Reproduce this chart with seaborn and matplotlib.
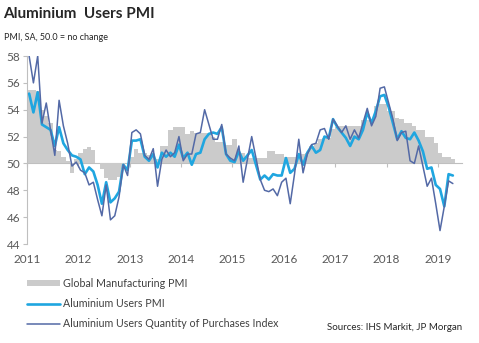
import numpy as np
import pandas as pd
import matplotlib
matplotlib.use("Agg")
import matplotlib.pyplot as plt
import seaborn as sns
from matplotlib.patches import Patch
from matplotlib.lines import Line2D

# ---- data (monthly, Jan 2011 - Apr 2019) ----
years = ["2011", "2012", "2013", "2014", "2015", "2016", "2017", "2018", "2019"]

global_pmi = [
    55.5, 55.5, 55.4, 54.0, 53.5, 53.0, 51.0, 50.9, 50.5, 50.2, 49.3, 50.3,
    50.8, 51.1, 51.2, 51.0, 50.0, 49.6, 48.9, 48.8, 48.8, 49.0, 49.6, 50.0,
    50.5, 51.1, 50.8, 50.8, 50.6, 50.5, 50.3, 51.3, 51.3, 52.5, 52.7, 52.7,
    52.7, 52.2, 52.4, 52.3, 52.3, 52.3, 52.3, 52.0, 51.6, 51.6, 51.4, 51.4,
    51.8, 50.8, 50.8, 50.4, 50.4, 50.4, 50.4, 50.4, 50.9, 50.9, 50.7, 50.7,
    50.5, 50.5, 50.5, 50.6, 50.7, 50.8, 51.3, 51.5, 51.8, 51.9, 51.9, 52.6,
    52.7, 52.8, 52.8, 52.8, 52.8, 52.8, 53.2, 53.2, 53.2, 54.3, 54.4, 54.4,
    53.9, 53.9, 53.4, 53.3, 53.0, 53.0, 52.8, 52.5, 52.5, 52.0, 52.0, 51.5,
    50.8, 50.5, 50.5, 50.3,
]

alu_pmi = [
    55.2, 53.8, 55.3, 52.9, 52.7, 52.5, 51.3, 52.7, 51.5, 51.0, 50.6, 50.5,
    50.3, 49.2, 49.7, 49.4, 48.4, 47.0, 48.6, 47.1, 47.4, 47.9, 49.9, 49.5,
    51.7, 51.7, 51.8, 50.5, 50.2, 50.7, 49.7, 50.8, 50.5, 50.8, 50.5, 51.4,
    50.4, 50.8, 49.9, 50.7, 50.8, 51.8, 52.2, 52.3, 52.2, 52.7, 50.7, 50.2,
    50.1, 50.9, 50.2, 50.6, 51.0, 49.9, 48.8, 49.1, 48.8, 49.2, 49.1, 49.1,
    50.4, 49.3, 49.6, 50.7, 49.9, 50.8, 51.3, 50.8, 51.0, 52.0, 51.9, 53.3,
    52.7, 52.3, 51.9, 51.3, 52.0, 51.8, 52.5, 53.8, 53.0, 53.9, 55.0, 55.1,
    54.2, 53.0, 51.8, 52.4, 51.9, 51.8, 52.3, 51.7, 50.9, 49.6, 49.7, 48.4,
    48.1, 46.8, 49.2, 49.1,
]

alu_purchases = [
    58.0, 56.0, 58.0, 53.0, 54.5, 52.5, 50.6, 54.7, 52.8, 51.5, 49.8, 50.1,
    49.5, 49.3, 48.4, 48.6, 47.3, 46.1, 48.4, 45.8, 46.1, 47.5, 49.9, 49.1,
    52.3, 52.5, 52.2, 50.6, 50.3, 51.1, 48.3, 50.3, 51.0, 50.5, 50.8, 52.0,
    50.2, 50.7, 50.7, 52.2, 52.3, 54.0, 52.9, 51.8, 51.8, 52.9, 50.7, 50.4,
    50.2, 51.3, 48.6, 50.3, 52.0, 50.4, 48.8, 48.0, 47.9, 48.1, 47.6, 48.6,
    48.9, 47.0, 49.2, 51.8, 49.3, 50.7, 51.4, 51.5, 52.5, 52.6, 51.8, 53.3,
    52.8, 52.3, 52.8, 51.8, 52.5, 51.9, 53.0, 54.1, 52.8, 53.5, 55.6, 55.7,
    54.5, 53.3, 51.7, 52.3, 52.4, 50.2, 50.0, 51.3, 49.8, 48.3, 48.9, 47.0,
    45.0, 46.8, 48.7, 48.5,
]

y_ticks = [44, 46, 48, 50, 52, 54, 56, 58]

labels = ["Global Manufacturing PMI", "Aluminium Users PMI",
          "Aluminium Users Quantity of Purchases Index"]

# ---- styling ----
sns.set_style("white")
plt.rcParams["font.family"] = ["Lato", "DejaVu Sans"]

C_GRAY = "#CBCBCB"
C_LIGHT = "#1FA6E0"
C_DARK = "#5369A6"
C_AX = "#BFBFBF"
C_TXT = "#595959"

n = len(global_pmi)
df = pd.DataFrame({
    "month": np.arange(n),
    "global": global_pmi,
    "alu": alu_pmi,
    "purch": alu_purchases,
})

fig = plt.figure(figsize=(4.79, 3.43), dpi=100)
ax = fig.add_axes([27 / 479, 1 - 244 / 343, (462 - 27) / 479, (244 - 56) / 343])

# bars from the 50 line
ax.bar(df["month"], df["global"] - 50, bottom=50, width=1.0,
       color=C_GRAY, edgecolor="none", zorder=1)

sns.lineplot(data=df, x="month", y="alu", ax=ax, color=C_LIGHT,
             linewidth=1.9, zorder=3, legend=False)
sns.lineplot(data=df, x="month", y="purch", ax=ax, color=C_DARK,
             linewidth=1.1, zorder=4, legend=False)

ax.set_ylim(44, 58)
ax.set_xlim(-0.5, (462 - 27) / 4.28 - 0.5)
ax.set_xlabel("")
ax.set_ylabel("")

ax.set_yticks(y_ticks)
ax.set_yticklabels([str(v) for v in y_ticks])
ax.tick_params(axis="y", direction="out", length=3, width=0.8, color=C_AX,
               labelsize=8.5, labelcolor=C_TXT, pad=2, left=True)

year_pos = [12 * i - 0.5 for i in range(len(years))]
ax.set_xticks(year_pos)
ax.set_xticklabels(years)
ax.tick_params(axis="x", length=0, labelsize=8.5, labelcolor=C_TXT, pad=7)

for s in ["top", "right", "bottom"]:
    ax.spines[s].set_visible(False)
ax.spines["left"].set_color(C_AX)
ax.spines["left"].set_linewidth(0.8)

# horizontal axis at 50 with year tick marks
sec = ax.secondary_xaxis((50 - 44) / (58 - 44))
sec.set_xticks(year_pos)
sec.set_xticklabels([""] * len(year_pos))
sec.tick_params(axis="x", direction="out", length=3, width=0.8, color=C_AX)
sec.spines["bottom"].set_color(C_AX)
sec.spines["bottom"].set_linewidth(0.8)
sec.spines["bottom"].set_zorder(2)

# titles
fig.text(3 / 479, 1 - 14 / 343, "Aluminium  Users PMI", fontsize=11,
         fontweight="bold", color="#262626", ha="left", va="center")
fig.text(4 / 479, 1 - 38 / 343, "PMI, SA, 50.0 = no change", fontsize=6.5,
         color="#262626", ha="left", va="center")

# legend
handles = [
    Patch(facecolor=C_GRAY, edgecolor="none"),
    Line2D([0], [0], color=C_LIGHT, linewidth=1.9),
    Line2D([0], [0], color=C_DARK, linewidth=1.1),
]
fig.legend(handles, labels, loc="upper left",
           bbox_to_anchor=(27 / 479, 1 - 278 / 343), frameon=False,
           fontsize=7.7, handlelength=3.1, handleheight=0.45,
           handletextpad=0.25, labelspacing=0.85, borderpad=0,
           borderaxespad=0, labelcolor="#404040")

fig.text(462 / 479, 1 - 328 / 343, "Sources: IHS Markit, JP Morgan",
         fontsize=7, color="#262626", ha="right", va="center")

fig.savefig("out.png", dpi=100)
